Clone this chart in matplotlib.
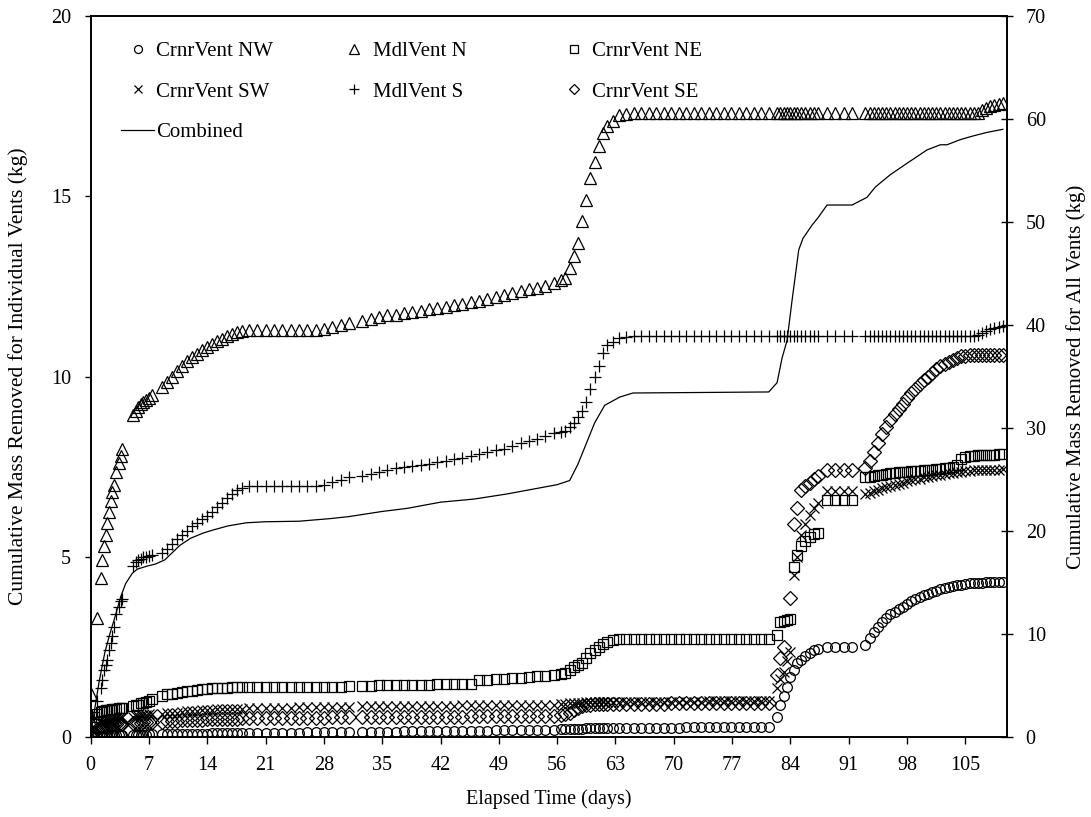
import matplotlib

matplotlib.use("Agg")
import matplotlib.pyplot as plt
import numpy as np
from matplotlib.legend import Legend

nan = np.nan

# sampling times (days), grouped by the logging periods visible in the chart
days = [
    0.1, 0.4, 0.8, 1.2, 1.4, 1.6, 1.8, 2.0, 2.2, 2.4, 2.6, 2.8, 3.1, 3.4, 3.6, 3.8,
    5.1, 5.4, 5.7, 6.0, 6.3, 6.6, 7.0, 7.4,
    8.6, 9.2, 9.8, 10.4, 11.0, 11.6, 12.2, 12.8, 13.4, 14.0, 14.6, 15.2, 15.8, 16.4, 17.0,
    17.6, 18.2, 19, 20, 21, 22, 23, 24, 25, 26, 27, 28, 29, 30, 31,
    32.6, 33.6, 34.6, 35.6, 36.6, 37.6, 38.6, 39.6, 40.6, 41.6, 42.6, 43.6, 44.6, 45.6,
    46.6, 47.6, 48.6, 49.6, 50.6, 51.6, 52.6, 53.6, 54.6, 55.6,
    56.5, 57.0, 57.5, 58.0, 58.5, 59.0, 59.5, 60.0, 60.5, 61.0, 61.5, 62.0, 62.7, 63.4,
    64.3, 65.2, 66.1, 67.0, 67.9, 68.8, 69.7, 70.6, 71.5, 72.4, 73.3, 74.2, 75.1, 76.0,
    76.9, 77.8, 78.7, 79.6, 80.5, 81.4,
    82.4, 82.8, 83.2, 83.6, 84.0, 84.4, 84.8, 85.3, 85.8, 86.3, 86.8, 87.3,
    88.4, 89.4, 90.4, 91.4,
    93.0, 93.5, 94.0, 94.5, 95.0, 95.5, 96.0, 96.5, 97.0, 97.5, 98.0, 98.5, 99.0, 99.5,
    100.0, 100.5, 101.0, 101.5, 102.0, 102.5, 103.0, 103.5, 104.0, 104.5, 105.0, 105.5,
    106.0, 106.5, 107.0, 107.5, 108.0, 108.5, 109.0, 109.5,
]

crnr_nw = [
    0.02, 0.03, 0.03, 0.04, 0.04, 0.04, 0.04, 0.05, 0.05, 0.05, 0.05, 0.05, 0.05, 0.05, 0.05, 0.05,
    0.05, 0.05, 0.06, 0.06, 0.06, 0.06, 0.07, 0.07,
    0.07, 0.07, 0.08, 0.08, 0.08, 0.08, 0.09, 0.09, 0.09, 0.09, 0.1, 0.1, 0.1, 0.1, 0.1,
    0.11, 0.11, 0.11, 0.11, 0.12, 0.12, 0.12, 0.12, 0.12, 0.13, 0.13, 0.13, 0.13, 0.13, 0.13,
    0.14, 0.14, 0.15, 0.15, 0.15, 0.16, 0.16, 0.16, 0.17, 0.17, 0.17, 0.17, 0.18, 0.18,
    0.18, 0.18, 0.19, 0.19, 0.19, 0.19, 0.2, 0.2, 0.2, 0.2,
    0.21, 0.21, 0.22, 0.22, 0.23, 0.23, 0.24, 0.24, 0.24, 0.25, 0.25, 0.25, 0.25, 0.25,
    0.26, 0.26, 0.26, 0.26, 0.26, 0.26, 0.26, 0.26, 0.27, 0.27, 0.27, 0.27, 0.27, 0.27,
    0.27, 0.28, 0.28, 0.28, 0.28, 0.28,
    0.55, 0.9, 1.15, 1.4, 1.66, 1.85, 2.05, 2.15, 2.25, 2.32, 2.4, 2.45,
    2.5, 2.5, 2.5, 2.5,
    2.55, 2.75, 2.9, 3.05, 3.18, 3.3, 3.4, 3.48, 3.55, 3.62, 3.7, 3.77, 3.83, 3.88,
    3.93, 3.98, 4.02, 4.06, 4.1, 4.13, 4.16, 4.19, 4.21, 4.23, 4.25, 4.26,
    4.27, 4.28, 4.28, 4.29, 4.29, 4.3, 4.3, 4.3,
]

mdl_n = [
    1.2, nan, 3.3, 4.4, 4.9, 5.3, 5.6, 5.95, 6.25, 6.55, 6.8, 7.0, 7.35, 7.6, 7.8, 8.0,
    8.93, 9.05, 9.15, 9.25, 9.3, 9.35, 9.4, 9.5,
    9.7, 9.85, 10.0, 10.15, 10.3, 10.42, 10.53, 10.63, 10.73, 10.82, 10.9, 10.98, 11.05, 11.12, 11.18,
    11.23, 11.27, 11.3, 11.3, 11.3, 11.3, 11.3, 11.3, 11.3, 11.3, 11.3, 11.32, 11.38, 11.43, 11.48,
    11.55, 11.6, 11.65, 11.7, 11.72, 11.76, 11.8, 11.83, 11.87, 11.9, 11.94, 11.98, 12.02, 12.06,
    12.1, 12.15, 12.2, 12.26, 12.32, 12.38, 12.42, 12.46, 12.52, 12.6,
    12.68, 12.72, 13.0, 13.35, 13.7, 14.3, 14.9, 15.5, 15.95, 16.4, 16.75, 16.95, 17.1, 17.25,
    17.28, 17.3, 17.3, 17.3, 17.3, 17.3, 17.3, 17.3, 17.3, 17.3, 17.3, 17.3, 17.3, 17.3,
    17.3, 17.3, 17.3, 17.3, 17.3, 17.3,
    17.3, 17.3, 17.3, 17.3, 17.3, 17.3, 17.3, 17.3, 17.3, 17.3, 17.3, 17.3,
    17.3, 17.3, 17.3, 17.3,
    17.3, 17.3, 17.3, 17.3, 17.3, 17.3, 17.3, 17.3, 17.3, 17.3, 17.3, 17.3, 17.3, 17.3,
    17.3, 17.3, 17.3, 17.3, 17.3, 17.3, 17.3, 17.3, 17.3, 17.3, 17.3, 17.3,
    17.3, 17.32, 17.4, 17.45, 17.5, 17.52, 17.55, 17.58,
]

crnr_ne = [
    0.38, 0.55, 0.65, 0.7, 0.72, 0.72, 0.74, 0.74, 0.75, 0.76, 0.77, 0.78, 0.79, 0.8, 0.8, 0.81,
    0.85, 0.88, 0.9, 0.93, 0.95, 0.97, 1.0, 1.05,
    1.15, 1.18, 1.2, 1.23, 1.25, 1.27, 1.29, 1.31, 1.33, 1.34, 1.35, 1.36, 1.37, 1.37, 1.38,
    1.38, 1.39, 1.39, 1.39, 1.39, 1.39, 1.4, 1.4, 1.4, 1.4, 1.4, 1.4, 1.4, 1.4, 1.41,
    1.42, 1.42, 1.43, 1.43, 1.44, 1.44, 1.44, 1.45, 1.45, 1.46, 1.46, 1.47, 1.47, 1.48,
    1.57, 1.58, 1.6, 1.61, 1.63, 1.64, 1.66, 1.68, 1.7, 1.72,
    1.74, 1.78, 1.85, 1.93, 2.0, 2.05, 2.2, 2.32, 2.42, 2.5, 2.58, 2.63, 2.68, 2.72,
    2.72, 2.73, 2.73, 2.73, 2.73, 2.73, 2.73, 2.73, 2.73, 2.73, 2.73, 2.73, 2.73, 2.73,
    2.73, 2.73, 2.73, 2.73, 2.73, 2.73,
    2.83, 3.2, 3.22, 3.25, 3.27, 4.72, 5.05, 5.3, 5.45, 5.55, 5.62, 5.65,
    6.57, 6.57, 6.57, 6.57,
    7.2, 7.22, 7.24, 7.26, 7.28, 7.3, 7.31, 7.32, 7.34, 7.35, 7.36, 7.37, 7.38, 7.39,
    7.4, 7.41, 7.42, 7.43, 7.44, 7.45, 7.46, 7.48, 7.55, 7.72, 7.77, 7.79,
    7.8, 7.81, 7.82, 7.82, 7.83, 7.83, 7.84, 7.84,
]

crnr_sw = [
    0.1, 0.25, 0.35, 0.4, 0.42, 0.44, 0.45, 0.46, 0.47, 0.48, 0.5, 0.5, 0.52, 0.53, 0.54, 0.55,
    0.55, 0.57, 0.58, 0.6, 0.61, 0.62, 0.63, 0.64,
    0.64, 0.66, 0.67, 0.68, 0.7, 0.71, 0.72, 0.73, 0.74, 0.75, 0.76, 0.77, 0.77, 0.78, 0.78,
    0.79, 0.79, 0.8, 0.8, 0.8, 0.81, 0.81, 0.81, 0.82, 0.82, 0.82, 0.82, 0.83, 0.83, 0.83,
    0.85, 0.85, 0.85, 0.86, 0.86, 0.86, 0.86, 0.87, 0.87, 0.87, 0.87, 0.87, 0.88, 0.88,
    0.88, 0.88, 0.88, 0.89, 0.89, 0.89, 0.89, 0.9, 0.9, 0.9,
    0.91, 0.92, 0.93, 0.94, 0.95, 0.95, 0.96, 0.96, 0.96, 0.96, 0.97, 0.97, 0.97, 0.97,
    0.97, 0.97, 0.97, 0.97, 0.97, 0.98, 0.98, 0.98, 0.98, 0.98, 0.98, 0.99, 0.99, 0.99,
    0.99, 0.99, 1.0, 1.0, 1.0, 1.0,
    1.36, 1.6, 1.8, 2.1, 2.36, 4.5, 5.0, 5.6, 5.9, 6.15, 6.35, 6.5,
    6.82, 6.82, 6.82, 6.82,
    6.75, 6.78, 6.82, 6.86, 6.9, 6.93, 6.97, 7.0, 7.03, 7.06, 7.1, 7.12, 7.15, 7.17,
    7.2, 7.22, 7.25, 7.26, 7.28, 7.3, 7.32, 7.33, 7.35, 7.36, 7.38, 7.39,
    7.4, 7.4, 7.41, 7.41, 7.42, 7.42, 7.42, 7.43,
]

mdl_s = [
    0.2, 0.55, 1.0, 1.35, 1.58, 1.86, 2.0, 2.15, 2.4, 2.6, 2.8, 3.05, 3.4, 3.6, 3.78, 3.82,
    4.74, 4.85, 4.9, 4.95, 4.98, 5.0, 5.03, 5.06,
    5.1, 5.22, 5.35, 5.5, 5.6, 5.72, 5.84, 5.95, 6.05, 6.12, 6.25, 6.38, 6.5, 6.62, 6.74,
    6.85, 6.92, 6.95, 6.95, 6.95, 6.95, 6.95, 6.95, 6.95, 6.95, 6.97, 7.0, 7.07, 7.13, 7.2,
    7.25, 7.3, 7.35, 7.42, 7.47, 7.5, 7.52, 7.55, 7.58, 7.62, 7.66, 7.7, 7.75, 7.8,
    7.85, 7.9, 7.95, 8.0, 8.07, 8.15, 8.22, 8.28, 8.35, 8.43,
    8.47, 8.5, 8.6, 8.72, 8.88, 9.05, 9.3, 9.65, 10.0, 10.3, 10.65, 10.88, 10.95, 11.08,
    11.1, 11.12, 11.12, 11.12, 11.12, 11.12, 11.12, 11.12, 11.12, 11.12, 11.12, 11.12, 11.12, 11.12,
    11.12, 11.12, 11.12, 11.12, 11.12, 11.12,
    11.12, 11.12, 11.12, 11.12, 11.12, 11.12, 11.12, 11.12, 11.12, 11.12, 11.12, 11.12,
    11.12, 11.12, 11.12, 11.12,
    11.12, 11.12, 11.12, 11.12, 11.12, 11.12, 11.12, 11.12, 11.12, 11.12, 11.12, 11.12, 11.12, 11.12,
    11.12, 11.12, 11.12, 11.12, 11.12, 11.12, 11.12, 11.12, 11.12, 11.12, 11.12, 11.12,
    11.12, 11.15, 11.2, 11.27, 11.32, 11.35, 11.38, 11.4,
]

crnr_se = [
    0.05, 0.15, 0.22, 0.27, 0.29, 0.3, 0.31, 0.32, 0.33, 0.34, 0.34, 0.35, 0.35, 0.36, 0.36, 0.37,
    0.38, 0.39, 0.4, 0.4, 0.41, 0.41, 0.42, 0.42,
    0.43, 0.44, 0.45, 0.45, 0.46, 0.47, 0.47, 0.48, 0.48, 0.49, 0.49, 0.5, 0.5, 0.5, 0.51,
    0.51, 0.52, 0.52, 0.52, 0.53, 0.53, 0.53, 0.53, 0.54, 0.54, 0.54, 0.54, 0.55, 0.55, 0.55,
    0.55, 0.55, 0.55, 0.55, 0.55, 0.56, 0.56, 0.56, 0.56, 0.56, 0.56, 0.56, 0.56, 0.57,
    0.57, 0.57, 0.57, 0.57, 0.57, 0.57, 0.57, 0.57, 0.58, 0.58,
    0.6, 0.63, 0.68, 0.74, 0.8, 0.85, 0.88, 0.9, 0.91, 0.91, 0.92, 0.92, 0.92, 0.92,
    0.92, 0.92, 0.92, 0.92, 0.92, 0.92, 0.93, 0.93, 0.93, 0.93, 0.93, 0.93, 0.93, 0.94,
    0.94, 0.94, 0.94, 0.94, 0.95, 0.95,
    1.72, 2.2, 2.5, nan, 3.85, 5.9, 6.35, 6.85, 6.95, 7.05, 7.15, 7.25,
    7.4, 7.4, 7.4, 7.4,
    7.45, 7.65, 7.9, 8.15, 8.4, 8.6, 8.8, 8.95, 9.1, 9.25, 9.4, 9.55, 9.65, 9.78,
    9.9, 10.0, 10.1, 10.2, 10.28, 10.35, 10.4, 10.47, 10.52, 10.56, 10.58, 10.6,
    10.6, 10.6, 10.6, 10.6, 10.6, 10.6, 10.6, 10.6,
]

# combined curve, read against the right-hand axis
comb_days = [
    0, 0.15, 0.5, 1.0, 1.7, 2.3, 2.9, 3.6, 4.2, 5.0, 5.6, 6.8, 7.8, 8.9, 9.8, 10.7,
    12.0, 13.5, 14.7, 16.5, 18.7, 21, 25, 28.7, 31, 35, 38, 42, 46, 50, 54, 56,
    57.5, 58.5, 59.5, 60.5, 61.7, 63.5, 65.1, 81.4, 82.4, 83.0, 83.6, 84.2, 85.0,
    85.5, 86.6, 87.3, 88.4, 91.4, 93.2, 94.2, 96, 98, 100.4, 102, 102.8, 104.4,
    105.9, 107.6, 109.5,
]
comb_kg = [
    0, 1.0, 2.8, 5.3, 8.2, 10.0, 11.6, 13.6, 14.9, 15.9, 16.3, 16.6, 16.8, 17.2, 17.9, 18.6,
    19.3, 19.8, 20.1, 20.5, 20.8, 20.9, 20.95, 21.2, 21.4, 21.9, 22.2, 22.8, 23.1, 23.6, 24.2, 24.5,
    24.9, 26.5, 28.5, 30.5, 32.2, 33.0, 33.4, 33.5, 34.4, 36.8, 38.5, 42.4, 47.3,
    48.4, 49.7, 50.4, 51.65, 51.65, 52.4, 53.4, 54.6, 55.7, 57.0, 57.5, 57.5, 58.0,
    58.35, 58.7, 59.0,
]

day_ticks = list(range(0, 106, 7))

series = [
    ("CrnrVent NW", crnr_nw, "o", 7.0),
    ("MdlVent N", mdl_n, "^", 8.0),
    ("CrnrVent NE", crnr_ne, "s", 7.0),
    ("CrnrVent SW", crnr_sw, "x", 7.0),
    ("MdlVent S", mdl_s, "+", 9.0),
    ("CrnrVent SE", crnr_se, "D", 6.8),
]

plt.rcParams["font.family"] = ["Liberation Serif", "DejaVu Serif"]
plt.rcParams["font.size"] = 14

fig = plt.figure(figsize=(10.91, 8.17), dpi=100)
ax = fig.add_axes([0.0831, 0.0979, 0.8399, 0.8825])
ax2 = ax.twinx()

handles = {}
for name, values, marker, size in series:
    assert len(values) == len(days), name
    (h,) = ax.plot(
        days,
        values,
        linestyle="none",
        marker=marker,
        markersize=size,
        markerfacecolor="none",
        markeredgecolor="black",
        markeredgewidth=0.9,
        label=name,
    )
    handles[name] = h

(h_comb,) = ax2.plot(comb_days, comb_kg, color="black", linewidth=0.9, label="Combined")
handles["Combined"] = h_comb

ax.set_xlim(0, 110)
ax.set_ylim(0, 20)
ax2.set_ylim(0, 70)
ax.set_xticks(day_ticks)
ax.set_yticks([0, 5, 10, 15, 20])
ax2.set_yticks(range(0, 71, 10))

for spine in list(ax.spines.values()) + list(ax2.spines.values()):
    spine.set_linewidth(1.2)

ax.tick_params(axis="x", direction="out", length=5, width=1.0, pad=9, labelsize=14.5)
ax.tick_params(axis="y", direction="out", length=4, width=1.0, pad=10, labelsize=14.5)
ax2.tick_params(axis="y", direction="inout", length=9, width=1.0, pad=9, labelsize=14.5)

ax.set_xlabel("Elapsed Time (days)", fontsize=14.5)
ax.set_ylabel("Cumulative Mass Removed for Individual Vents (kg)", fontsize=15.5)
ax2.set_ylabel("Cumulative Mass Removed for All Vents (kg)", fontsize=15, rotation=90)
ax.xaxis.set_label_coords(0.5, -0.073)
ax.yaxis.set_label_coords(-0.0684, 0.5)
ax2.yaxis.set_label_coords(1.0645, 0.5)

# three legend columns placed separately, as in the original layout
legend_columns = [
    (["CrnrVent NW", "CrnrVent SW", "Combined"], 0.033),
    (["MdlVent N", "MdlVent S"], 0.269),
    (["CrnrVent NE", "CrnrVent SE"], 0.509),
]
for names, x_anchor in legend_columns:
    leg = Legend(
        ax2,
        [handles[n] for n in names],
        names,
        loc="upper left",
        bbox_to_anchor=(x_anchor, 0.965),
        frameon=False,
        fontsize=15,
        handlelength=1.6,
        handletextpad=0.1,
        labelspacing=1.02,
        borderpad=0,
        borderaxespad=0,
        markerscale=0.82,
    )
    ax2.add_artist(leg)

fig.savefig("out.png", dpi=100)
plt.close(fig)
